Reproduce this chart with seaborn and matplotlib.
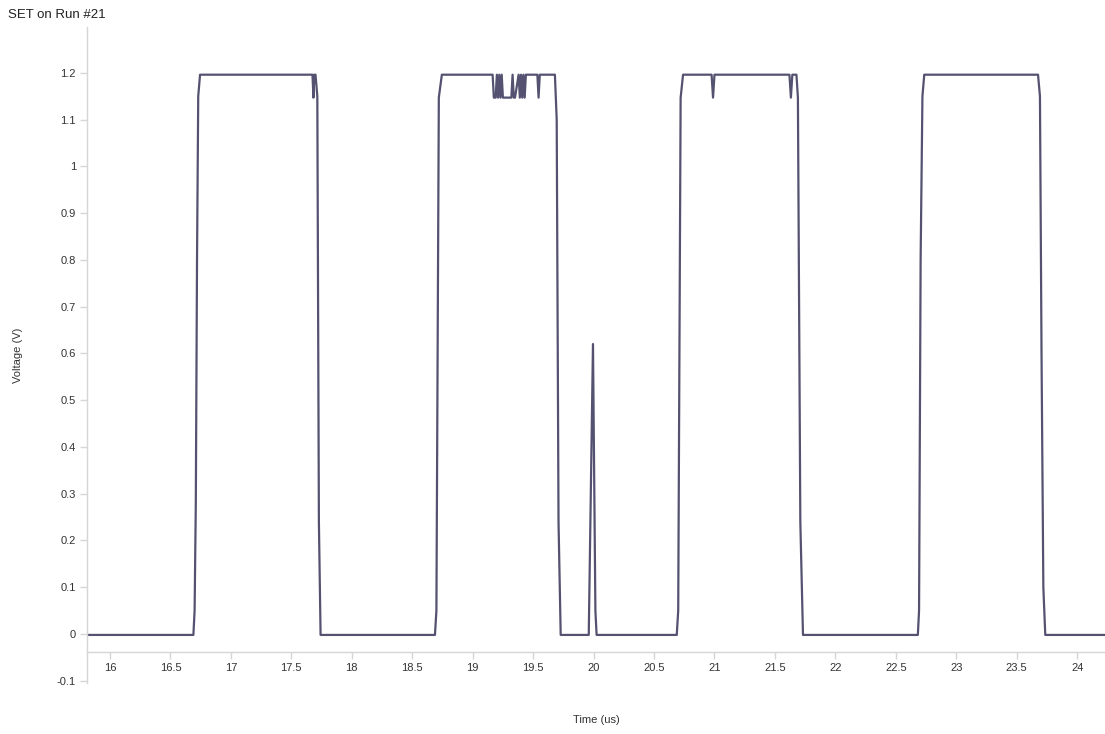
import matplotlib
matplotlib.use("Agg")
import matplotlib.pyplot as plt
import pandas as pd
import seaborn as sns

# Waveform (time in us, voltage in V)
LOW = -0.002
HIGH = 1.196
DIP = 1.147

time_us = [
    15.81,
    # pulse 1
    16.69, 16.70, 16.71, 16.72, 16.73, 16.745,
    17.675, 17.683, 17.69, 17.70, 17.715, 17.728, 17.742,
    # pulse 2
    18.688, 18.70, 18.72, 18.745,
    19.165, 19.175, 19.19, 19.20, 19.21, 19.22, 19.23, 19.24, 19.25,
    19.26, 19.32, 19.33, 19.34, 19.35, 19.38, 19.39, 19.40, 19.41,
    19.42, 19.43, 19.44, 19.45, 19.47, 19.535, 19.545, 19.555,
    19.68, 19.695, 19.71, 19.728,
    # spike
    19.96, 19.995, 20.015, 20.025,
    # pulse 3
    20.688, 20.70, 20.72, 20.74,
    20.976, 20.988, 21.00,
    21.62, 21.632, 21.644,
    21.678, 21.69, 21.71, 21.732,
    # pulse 4
    22.682, 22.692, 22.705, 22.72, 22.735,
    23.676, 23.692, 23.705, 23.72, 23.736,
    24.23,
]

voltage_v = [
    LOW,
    LOW, 0.05, 0.28, 0.80, 1.15, HIGH,
    HIGH, DIP, HIGH, HIGH, 1.15, 0.24, LOW,
    LOW, 0.05, 1.147, HIGH,
    HIGH, DIP, DIP, HIGH, DIP, HIGH, DIP, HIGH, DIP,
    DIP, DIP, HIGH, DIP, DIP, HIGH, DIP, HIGH, DIP,
    HIGH, DIP, HIGH, HIGH, HIGH, HIGH, DIP, HIGH,
    HIGH, 1.10, 0.24, LOW,
    LOW, 0.62, 0.05, LOW,
    LOW, 0.05, 1.147, HIGH,
    HIGH, DIP, HIGH,
    HIGH, DIP, HIGH,
    HIGH, 1.147, 0.24, LOW,
    LOW, 0.05, 0.80, 1.15, HIGH,
    HIGH, 1.15, 0.60, 0.10, LOW,
    LOW,
]

x_ticks = [16 + 0.5 * i for i in range(17)]
y_ticks = [round(-0.1 + 0.1 * i, 1) for i in range(14)]

df = pd.DataFrame({"time": time_us, "voltage": voltage_v})

sns.set_theme(style="white")
plt.rcParams["font.family"] = ["Liberation Sans", "DejaVu Sans"]

fig = plt.figure(figsize=(11.05, 7.34), dpi=100)
ax = fig.add_axes([87 / 1105, 1 - 683 / 734, 1 - 87 / 1105, (683 - 27) / 734])

sns.lineplot(data=df, x="time", y="voltage", ax=ax, estimator=None, sort=False,
             color="#545270", linewidth=1.6)

ax.set_xlim(15.81, 24.23)
ax.set_ylim(-0.1048, 1.298)

ax.set_xticks(x_ticks)
ax.set_xticklabels([f"{t:g}" for t in x_ticks])
ax.set_yticks(y_ticks)
ax.set_yticklabels([f"{v:g}" for v in y_ticks])

for side in ["top", "right"]:
    ax.spines[side].set_visible(False)
for side in ["left", "bottom"]:
    ax.spines[side].set_color("#d6d6d6")
    ax.spines[side].set_linewidth(1.0)
# the time axis sits a little above the bottom of the voltage range
ax.spines["bottom"].set_position(("data", -0.0385))

ax.tick_params(axis="both", which="major", length=5, width=1, color="#d6d6d6",
               labelsize=8, labelcolor="#333333", pad=3, direction="out")
ax.tick_params(axis="x", bottom=True)
ax.tick_params(axis="y", left=True)

ax.set_xlabel("Time (us)", fontsize=8, color="#333333")
ax.xaxis.set_label_coords(0.5, (683 - 715) / 656, transform=ax.transAxes)
ax.set_ylabel("Voltage (V)", fontsize=8, color="#333333")
ax.yaxis.set_label_coords((23 - 87) / 1018, 0.5, transform=ax.transAxes)

fig.text(8 / 1105, 1 - 15 / 734, "SET on Run #21", fontsize=9.5, color="#222222",
         ha="left", va="center")

fig.savefig("out.png", dpi=100)
